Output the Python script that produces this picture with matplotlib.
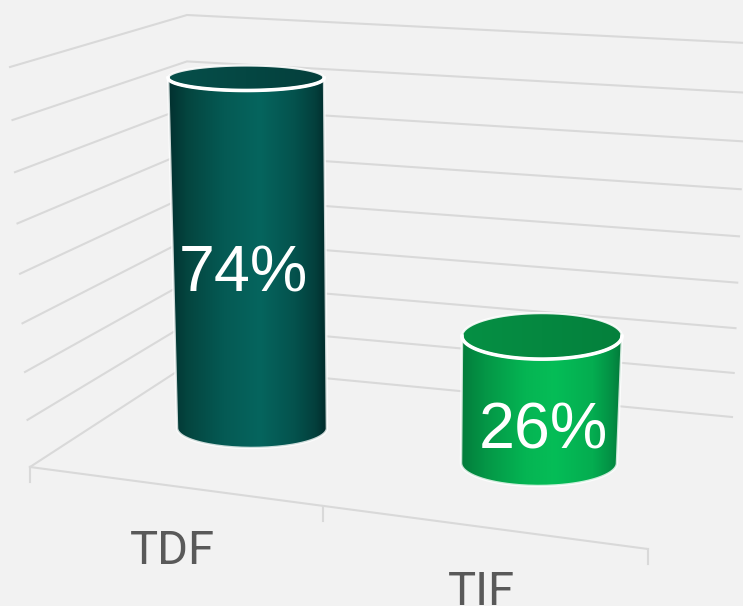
#!/usr/bin/env python3
"""3D-look cylinder chart, drawn on a full-figure pixel axes."""

import matplotlib
matplotlib.use("Agg")
import matplotlib.pyplot as plt
import numpy as np
from matplotlib.colors import LinearSegmentedColormap
from matplotlib.patches import PathPatch
from matplotlib.path import Path

# ---- data ----
CATEGORIES = ["TDF", "TIF"]
VALUES = [74, 26]
AXIS_LEVELS = [0, 10, 20, 30, 40, 50, 60, 70, 80]

# ---- palette ----
BG = "#f2f2f2"
GRID = "#d9d9d9"
LABEL = "#595959"
SIDE_CMAPS = [
    [(0, "#02302f"), (0.12, "#04453f"), (0.35, "#055a54"), (0.58, "#06655e"),
     (0.8, "#04524d"), (0.93, "#033f3c"), (1, "#012a2a")],
    [(0, "#037c3b"), (0.15, "#049646"), (0.4, "#05b553"), (0.58, "#05bd57"),
     (0.82, "#04ad50"), (0.94, "#038f44"), (1, "#037a3a")],
]
TOP_COLORS = [["#064f4a", "#043f3c"], ["#069044", "#04803c"]]

# ---- fake 3D geometry, in pixels ----
W, H = 743, 606
LEFT = ((30, 467), (10, 67))     # front-left edge, floor to top
CORNER = ((187, 365), (187, 15))  # back corner
RIGHT = ((732, 417), (746, 43))  # back-right edge
FRONT_END = (648, 549)
BASE = [(252, 428), (539, 463)]  # cylinder base centres
BASE_R = [(75, 20), (78, 23)]
TOP_R = [(78, 12.5), (80, 23)]
PX_PER_UNIT = [4.73, 4.88]
LEAN = [-0.08, 0.115]
TEXT_OFFSET = [(-6, 15), (3, 25)]


def persp(t, w):
    return t / (t + (1 - t) * w)


def level_point(edge, v):
    t = persp(v / AXIS_LEVELS[-1], 1.07)
    (x0, y0), (x1, y1) = edge
    return x0 + (x1 - x0) * v / AXIS_LEVELS[-1], y0 + (y1 - y0) * t


def floor_point(c):
    t = persp(c / len(CATEGORIES), 1.11)
    return (LEFT[0][0] + (FRONT_END[0] - LEFT[0][0]) * t,
            LEFT[0][1] + (FRONT_END[1] - LEFT[0][1]) * t)


def arc(cx, cy, rx, ry, a0, a1, n=80):
    a = np.radians(np.linspace(a0, a1, n))
    return np.column_stack([cx + rx * np.cos(a), cy + ry * np.sin(a)])


def gradient_fill(ax, pts, colors):
    x0, x1 = pts[:, 0].min(), pts[:, 0].max()
    y0, y1 = pts[:, 1].min(), pts[:, 1].max()
    cmap = LinearSegmentedColormap.from_list("c", colors)
    grad = np.linspace(0, 1, 256)[None, :]
    im = ax.imshow(grad, cmap=cmap, extent=(x0, x1, y1, y0), aspect="auto",
                   zorder=3, interpolation="bilinear")
    patch = PathPatch(Path(pts, closed=False), transform=ax.transData,
                      facecolor="none", edgecolor="none")
    ax.add_patch(patch)
    im.set_clip_path(patch)


def cylinder(ax, i, value):
    bx, by = BASE[i]
    tx = bx + LEAN[i] * value
    ty = by - PX_PER_UNIT[i] * value
    brx, bry = BASE_R[i]
    trx, try_ = TOP_R[i]

    # side wall: top back is hidden under the top face
    side = np.vstack([arc(tx, ty, trx, try_, 180, 0),
                      arc(bx, by, brx, bry, 0, 180)])
    side = np.vstack([side, side[:1]])
    gradient_fill(ax, side, SIDE_CMAPS[i])
    ax.plot(side[:, 0], side[:, 1], color="white", lw=1.8, alpha=0.8, zorder=4)

    top = arc(tx, ty, trx, try_, 0, 360)
    gradient_fill(ax, top, TOP_COLORS[i])
    ax.plot(top[:, 0], top[:, 1], color="white", lw=1.6, alpha=0.9, zorder=5)
    front = arc(tx, ty, trx, try_, 0, 180)
    ax.plot(front[:, 0], front[:, 1], color="white", lw=2.6, zorder=5)


def main():
    plt.rcParams["font.family"] = ["Liberation Sans", "DejaVu Sans"]
    fig = plt.figure(figsize=(W / 100, H / 100), dpi=100, facecolor=BG)
    ax = fig.add_axes([0, 0, 1, 1])
    ax.set_xlim(0, W)
    ax.set_ylim(H, 0)
    ax.axis("off")

    # walls and floor
    for v in AXIS_LEVELS:
        a, b, c = level_point(LEFT, v), level_point(CORNER, v), level_point(RIGHT, v)
        ax.plot([a[0], b[0], c[0]], [a[1], b[1], c[1]], color=GRID, lw=1.5,
                solid_joinstyle="miter", zorder=1)
    start, end = floor_point(0), floor_point(len(CATEGORIES))
    ax.plot([start[0], end[0]], [start[1], end[1]], color=GRID, lw=1.5, zorder=1)
    for c in range(len(CATEGORIES) + 1):
        x, y = floor_point(c)
        ax.plot([x, x], [y, y + 15], color=GRID, lw=1.5, zorder=1)

    for i, (name, value) in enumerate(zip(CATEGORIES, VALUES)):
        cylinder(ax, i, value)
        bx, by = BASE[i]
        tx = bx + LEAN[i] * value
        ty = by - PX_PER_UNIT[i] * value
        dx, dy = TEXT_OFFSET[i]
        ax.text((bx + tx) / 2 + dx, (by + ty) / 2 + dy, f"{value}%", color="white",
                fontsize=46.5, ha="center", va="center_baseline", zorder=6)
        x, y = floor_point(i + 0.5)
        ax.text(x, y + 65.5, name, color=LABEL, fontsize=34, family="Roboto",
                ha="center", va="center", zorder=6)

    ax.set_xlim(0, W)
    ax.set_ylim(H, 0)
    fig.savefig("out.png", dpi=100, facecolor=BG)


if __name__ == "__main__":
    main()
